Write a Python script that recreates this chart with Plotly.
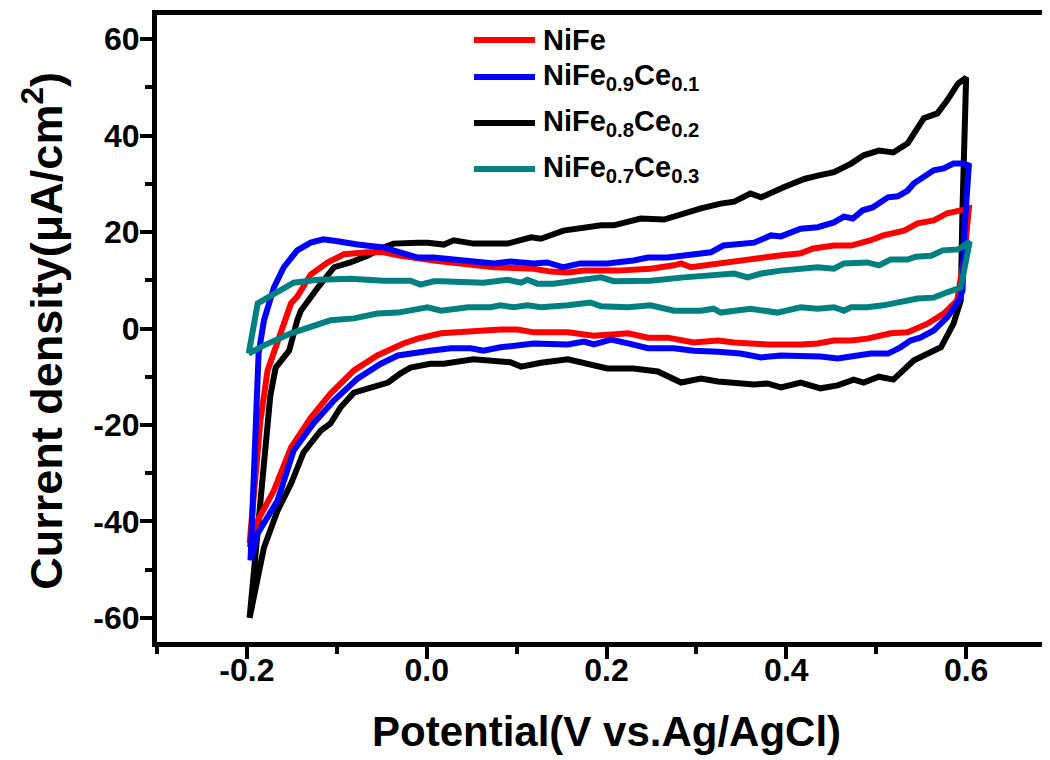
import plotly.graph_objects as go

# ---------------- data ----------------
series_names = ["NiFe", "NiFe<sub>0.9</sub>Ce<sub>0.1</sub>",
                "NiFe<sub>0.8</sub>Ce<sub>0.2</sub>", "NiFe<sub>0.7</sub>Ce<sub>0.3</sub>"]
series_colors = ["#FF0000", "#0000FF", "#000000", "#008080"]

nife_x = [-0.197, -0.191, -0.185, -0.177, -0.166, -0.159, -0.151, -0.144, -0.129, -0.110, -0.092, -0.066,
          -0.048, -0.029, -0.010, 0.008, 0.027, 0.046, 0.075, 0.119, 0.138, 0.157, 0.175, 0.212, 0.249,
          0.275, 0.283, 0.294, 0.324, 0.349, 0.364, 0.390, 0.416, 0.430, 0.453, 0.472, 0.494, 0.508, 0.531,
          0.546, 0.564, 0.579, 0.594, 0.603,
          0.598, 0.594, 0.590, 0.575, 0.557, 0.535, 0.516, 0.490, 0.472, 0.453, 0.435, 0.416, 0.379, 0.342,
          0.324, 0.297, 0.268, 0.246, 0.224, 0.186, 0.157, 0.119, 0.101, 0.082, 0.046, 0.016, -0.010,
          -0.026, -0.055, -0.081, -0.107, -0.129, -0.151, -0.170, -0.188, -0.197]
nife_y = [-44.6, -32.0, -19.1, -8.7, -2.5, 1.5, 5.2, 6.6, 11.2, 13.7, 15.4, 15.8,
          15.8, 15.1, 14.5, 14.1, 13.7, 13.3, 12.7, 12.4, 11.8, 11.6, 12.0, 12.0, 12.4,
          13.1, 13.5, 12.7, 13.5, 14.3, 14.5, 15.1, 15.6, 16.6, 17.2, 17.2, 18.3, 19.3, 20.3,
          21.8, 22.4, 23.9, 24.5, 24.9,
          15.0, 9.3, 5.8, 3.1, 1.0, -0.8, -1.0, -2.1, -2.5, -2.5, -3.1, -3.3, -3.3, -2.9,
          -2.5, -2.9, -1.9, -1.9, -1.0, -1.5, -0.8, -0.8, -0.2, -0.2, -0.8, -1.0, -2.1,
          -3.1, -5.6, -8.7, -13.5, -18.5, -24.7, -33.6, -39.8, -45.4]

ce01_x = [-0.196, -0.192, -0.187, -0.181, -0.177, -0.170, -0.159, -0.144, -0.129, -0.115, -0.099, -0.077,
          -0.048, -0.029, -0.010, 0.008, 0.027, 0.046, 0.075, 0.093, 0.119, 0.134, 0.152, 0.171, 0.201,
          0.230, 0.246, 0.268, 0.305, 0.316, 0.330, 0.349, 0.364, 0.383, 0.394, 0.416, 0.435, 0.453,
          0.464, 0.474, 0.485, 0.496, 0.513, 0.524, 0.535, 0.542, 0.564, 0.575, 0.586, 0.597, 0.603,
          0.598, 0.596, 0.592, 0.579, 0.564, 0.549, 0.538, 0.527, 0.513, 0.494, 0.472, 0.457, 0.438,
          0.416, 0.394, 0.372, 0.349, 0.324, 0.297, 0.275, 0.246, 0.224, 0.205, 0.186, 0.175, 0.157,
          0.138, 0.119, 0.082, 0.063, 0.049, 0.027, 0.004, -0.010, -0.032, -0.051, -0.077, -0.103,
          -0.126, -0.148, -0.166, -0.188, -0.196]
ce01_y = [-48.1, -25.0, -5.2, 1.7, 4.5, 8.5, 12.7, 16.2, 17.8, 18.5, 18.1, 17.4,
          16.8, 15.8, 14.7, 14.7, 14.3, 14.1, 13.5, 13.9, 13.5, 13.7, 12.7, 13.5, 13.5,
          14.1, 14.7, 14.7, 15.5, 15.8, 17.2, 17.4, 17.8, 19.3, 19.1, 20.7, 21.0, 22.0,
          23.2, 22.8, 24.5, 25.1, 27.2, 27.4, 28.6, 30.1, 32.8, 33.2, 34.2, 34.2, 33.8,
          20.0, 7.9, 5.8, 2.3, -0.4, -1.9, -2.5, -3.9, -5.2, -5.2, -5.8, -6.2, -5.8,
          -5.8, -5.6, -6.0, -5.2, -4.8, -4.6, -4.1, -4.1, -3.1, -2.3, -3.3, -2.7, -3.3,
          -3.1, -3.1, -3.9, -4.6, -4.1, -4.1, -4.6, -5.0, -5.6, -7.3, -10.4, -14.9,
          -19.7, -25.3, -35.7, -42.5, -48.1]

ce02_x = [-0.197, -0.189, -0.181, -0.174, -0.168, -0.162, -0.153, -0.144, -0.140, -0.121, -0.103, -0.085,
          -0.066, -0.048, -0.037, -0.010, 0.001, 0.019, 0.030, 0.052, 0.090, 0.116, 0.127, 0.152, 0.194,
          0.208, 0.238, 0.264, 0.286, 0.305, 0.327, 0.342, 0.360, 0.372, 0.397, 0.420, 0.435, 0.453,
          0.472, 0.486, 0.503, 0.519, 0.535, 0.553, 0.568, 0.579, 0.591, 0.600,
          0.596, 0.594, 0.586, 0.572, 0.542, 0.519, 0.503, 0.486, 0.475, 0.457, 0.438, 0.416, 0.394,
          0.379, 0.364, 0.342, 0.324, 0.305, 0.283, 0.257, 0.230, 0.201, 0.171, 0.157, 0.127, 0.105,
          0.093, 0.052, 0.019, 0.004, -0.018, -0.029, -0.043, -0.062, -0.081, -0.096, -0.107, -0.118,
          -0.137, -0.151, -0.166, -0.181, -0.190, -0.197]
ce02_y = [-60.0, -43.0, -26.0, -14.0, -8.1, -6.6, -4.6, 1.7, 3.7, 8.5, 12.7, 13.7,
          15.1, 16.8, 17.6, 17.8, 17.8, 17.4, 18.3, 17.6, 17.6, 18.9, 18.6, 20.3, 21.4,
          21.4, 22.8, 22.6, 24.0, 24.9, 25.9, 26.3, 28.0, 27.2, 29.3, 31.0, 31.7, 32.4,
          34.2, 35.9, 36.9, 36.5, 38.4, 43.6, 44.6, 47.3, 50.8, 52.0,
          25.0, 5.8, 1.0, -3.9, -6.6, -10.6, -10.0, -11.2, -10.6, -11.8, -12.4, -11.2, -12.2,
          -11.4, -11.6, -11.4, -11.0, -10.4, -11.2, -8.9, -8.3, -8.3, -7.0, -6.4, -7.1, -7.9,
          -7.0, -6.4, -7.3, -7.3, -8.1, -9.3, -11.2, -12.2, -13.3, -16.4, -19.7, -21.2,
          -25.7, -32.2, -37.8, -45.4, -52.9, -60.0]

ce03_x = [-0.198, -0.192, -0.188, -0.177, -0.159, -0.148, -0.121, -0.085, -0.048, -0.029, -0.018, -0.007,
          0.008, 0.016, 0.063, 0.090, 0.105, 0.112, 0.123, 0.141, 0.164, 0.179, 0.194, 0.208, 0.249,
          0.286, 0.324, 0.342, 0.357, 0.372, 0.394, 0.416, 0.435, 0.453, 0.464, 0.490, 0.503, 0.516,
          0.535, 0.544, 0.561, 0.574, 0.591, 0.604,
          0.594, 0.579, 0.564, 0.546, 0.527, 0.508, 0.490, 0.472, 0.464, 0.453, 0.435, 0.416, 0.390,
          0.360, 0.327, 0.319, 0.305, 0.275, 0.249, 0.224, 0.194, 0.182, 0.157, 0.127, 0.112, 0.097,
          0.082, 0.071, 0.046, 0.016, 0.001, -0.010, -0.032, -0.055, -0.081, -0.107, -0.129, -0.151,
          -0.181, -0.198]
ce03_y = [-5.2, 1.7, 5.2, 6.4, 8.5, 9.5, 10.1, 10.3, 9.9, 9.8, 9.9, 9.1,
          9.8, 9.8, 9.5, 10.1, 9.5, 10.1, 9.3, 9.3, 9.9, 10.1, 10.6, 9.8, 9.9,
          10.6, 11.0, 11.4, 10.6, 11.4, 12.0, 12.4, 12.7, 12.4, 13.5, 13.7, 13.1, 14.3,
          14.3, 14.9, 15.1, 16.2, 16.4, 18.0,
          8.5, 7.5, 6.4, 6.2, 5.4, 4.8, 4.4, 4.4, 3.7, 4.4, 4.1, 4.4, 3.3,
          4.1, 3.3, 4.1, 3.7, 3.7, 4.8, 4.4, 4.6, 5.4, 4.8, 4.4, 4.8, 4.4,
          4.8, 4.4, 4.4, 3.7, 4.4, 4.1, 3.3, 3.1, 2.1, 1.7, 0.2, -1.0,
          -3.5, -5.2]

x_range = [-0.3, 0.6933]
y_range = [-65, 65]
x_tickvals = [-0.2, 0.0, 0.2, 0.4, 0.6]
x_ticktext = ["-0.2", "0.0", "0.2", "0.4", "0.6"]
y_tickvals = [-60, -40, -20, 0, 20, 40, 60]
y_ticktext = ["-60", "-40", "-20", "0", "20", "40", "60"]
x_title = "Potential(V vs.Ag/AgCl)"
y_title = "Current density(\u03bcA/cm<sup>2</sup>)"

# ---------------- figure ----------------
FONT = "Liberation Sans, Arial, sans-serif"

all_x = [nife_x, ce01_x, ce02_x, ce03_x]
all_y = [nife_y, ce01_y, ce02_y, ce03_y]
draw_order = [2, 0, 1, 3]

fig = go.Figure()
for i in draw_order:
    fig.add_trace(go.Scatter(x=all_x[i], y=all_y[i], mode="lines", name=series_names[i],
                             line=dict(color=series_colors[i], width=6), showlegend=False))

# the page body has an 8px margin, so the figure is 8px smaller than the window
fig.update_layout(
    width=1042, height=752,
    margin=dict(l=149, r=0, t=7, b=118, autoexpand=False),
    paper_bgcolor="white", plot_bgcolor="white",
    showlegend=False,
)
fig.update_xaxes(
    range=x_range, showgrid=False, zeroline=False, automargin=False,
    showline=True, linewidth=5, linecolor="black", mirror=True,
    tickmode="array", tickvals=x_tickvals, ticktext=x_ticktext,
    ticks="outside", ticklen=12, tickwidth=4, tickcolor="black",
    minor=dict(ticks="outside", ticklen=7, tickwidth=4, tickcolor="black", dtick=0.1, tick0=0.0, showgrid=False),
    tickfont=dict(family=FONT, size=32, color="black", weight="bold"),
    ticklabelstandoff=-16,
)
fig.update_yaxes(
    range=y_range, showgrid=False, zeroline=False, automargin=False,
    showline=True, linewidth=5, linecolor="black", mirror=False,
    tickmode="array", tickvals=y_tickvals, ticktext=y_ticktext,
    ticks="outside", ticklen=12, tickwidth=4, tickcolor="black",
    minor=dict(ticks="outside", ticklen=7, tickwidth=4, tickcolor="black", dtick=10, tick0=0, showgrid=False),
    tickfont=dict(family=FONT, size=32, color="black", weight="bold"),
    ticklabelstandoff=-6,
)

# axis titles
fig.add_annotation(text=x_title, xref="paper", yref="paper", x=0.503, y=-0.142,
                   xanchor="center", yanchor="middle", showarrow=False,
                   font=dict(family=FONT, size=42, color="black", weight="bold"))
fig.add_annotation(text=y_title, xref="paper", yref="paper", x=-0.128, y=0.496,
                   xanchor="center", yanchor="middle", showarrow=False, textangle=-90,
                   font=dict(family=FONT, size=45, color="black", weight="bold"))

# legend (drawn manually to match the long key lines)
W, H, L, B = 893.0, 627.0, 157.0, 642.0
legend_rows_py = [40, 77, 123, 169]
for name, color, py in zip(series_names, series_colors, legend_rows_py):
    yp = (B - py) / H
    fig.add_shape(type="line", xref="paper", yref="paper",
                  x0=(474 - L) / W, x1=(535 - L) / W, y0=yp, y1=yp,
                  line=dict(color=color, width=6))
    fig.add_annotation(text=name, xref="paper", yref="paper", x=(541 - L) / W, y=yp,
                       xanchor="left", yanchor="middle", showarrow=False,
                       font=dict(family=FONT, size=29, color="black", weight="bold"))

fig.write_html("out.html")
